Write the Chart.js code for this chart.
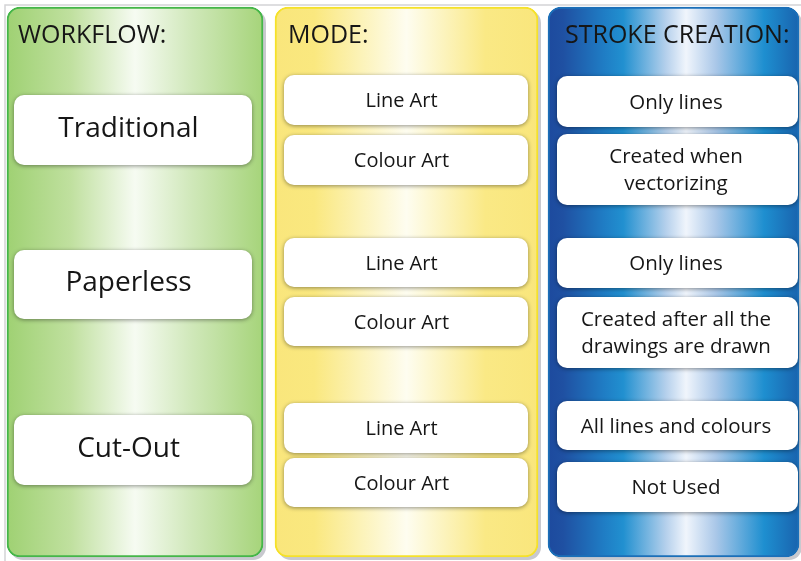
<!DOCTYPE html>
<html>
<head>
<meta charset="utf-8">
<script src="https://cdn.jsdelivr.net/npm/chart.js@4/dist/chart.umd.min.js"></script>
<style>
  html, body { margin: 0; padding: 0; background: #ffffff; }
  #wrap { width: 801px; height: 561px; }
</style>
</head>
<body>
<div id="wrap"><canvas id="c" width="801" height="561"></canvas></div>
<script>
// ---------- data ----------
const columnTitles = ['WORKFLOW:', 'MODE:', 'STROKE CREATION:'];
const panelCenters = [135, 406.5, 673.5];
const panelRange = [7, 557];
const boxCenters = [133, 406, 677.5];

const workflowLabels = [['Traditional'], ['Paperless'], ['Cut-Out']];
const workflowRanges = [[95, 165], [250, 319], [415, 485]];

const modeLabels = [['Line Art'], ['Colour Art'], ['Line Art'], ['Colour Art'], ['Line Art'], ['Colour Art']];
const modeRanges = [[75, 125], [135, 185], [238, 287], [297, 346], [403, 453], [458, 507]];

const strokeLabels = [['Only lines'], ['Created when', 'vectorizing'], ['Only lines'],
  ['Created after all the', 'drawings are drawn'], ['All lines and colours'], ['Not Used']];
const strokeRanges = [[76, 127], [134, 205], [238, 288], [297, 368], [401, 450], [462, 512]];

// ---------- styles ----------
const panelWidths = [256, 263, 251];
const boxWidths = [238, 244, 241];
const panelBorders = ['#45b649', '#f5e12a', '#1b6fb8'];
const panelStops = [
  [[0, '#9fd173'], [0.25, '#c0e09f'], [0.5, '#f6fbf2'], [0.72, '#d0e8ba'], [1, '#a6d47a']],
  [[0, '#f9e67c'], [0.15, '#fae87f'], [0.5, '#fefdf0'], [0.8, '#fae985'], [1, '#f9e67c']],
  [[0, '#1d4a9e'], [0.06, '#1f50a2'], [0.22, '#1f7cc4'], [0.3, '#2190d0'], [0.47, '#b5d0ec'],
   [0.55, '#f0f5fc'], [0.67, '#a9c7e8'], [0.86, '#1e8fd0'], [1, '#1963ae']]
];
const titleOffsets = [11, 13, 17];
const textColor = '#161616';
const fontFamily = '"Open Sans", "DejaVu Sans", sans-serif';
const fontWeight = '500';

const gradCache = {};
function panelGradient(i) {
  return function (ctx) {
    const chart = ctx.chart;
    if (!chart.chartArea) return panelStops[i][0][1];
    const xs = chart.scales.x;
    const c = xs.getPixelForValue(panelCenters[i]);
    const key = i + ':' + c;
    if (gradCache[key]) return gradCache[key];
    const g = chart.ctx.createLinearGradient(c - panelWidths[i] / 2, 0, c + panelWidths[i] / 2, 0);
    panelStops[i].forEach(s => g.addColorStop(s[0], s[1]));
    gradCache[key] = g;
    return g;
  };
}

const panelDatasets = columnTitles.map((t, i) => ({
  label: t,
  data: [{ x: panelCenters[i], y: panelRange }],
  barThickness: panelWidths[i],
  backgroundColor: panelGradient(i),
  borderColor: panelBorders[i],
  borderWidth: 2,
  borderRadius: 13,
  borderSkipped: false,
  stack: 'all',
  order: 2,
  clip: false,
  _kind: 'panel',
  _col: i
}));

const boxSets = [
  { labels: workflowLabels, ranges: workflowRanges, size: 28, dy: -3, dx: -4.5 },
  { labels: modeLabels, ranges: modeRanges, size: 20, dy: 0, dx: -4.5 },
  { labels: strokeLabels, ranges: strokeRanges, size: 20.5, dy: 0, dx: -1.5 }
];
const boxDatasets = boxSets.map((b, i) => ({
  label: columnTitles[i] + ' items',
  data: b.ranges.map(r => ({ x: boxCenters[i], y: r })),
  barThickness: boxWidths[i],
  backgroundColor: '#ffffff',
  borderWidth: 0,
  borderRadius: 10,
  borderSkipped: false,
  inflateAmount: 0,
  stack: 'all',
  order: 1,
  clip: false,
  _kind: 'box',
  _col: i
}));

const framePlugin = {
  id: 'frame',
  beforeDraw(chart) {
    const ctx = chart.ctx;
    ctx.save();
    ctx.fillStyle = '#ffffff';
    ctx.fillRect(0, 0, chart.width, chart.height);
    ctx.strokeStyle = '#d4d4d6';
    ctx.lineWidth = 1.5;
    ctx.beginPath();
    ctx.moveTo(5, chart.height);
    ctx.lineTo(5, 5);
    ctx.lineTo(chart.width, 5);
    ctx.stroke();
    ctx.restore();
  }
};

function roundRect(ctx, x, y, w, h, r) {
  ctx.beginPath();
  ctx.moveTo(x + r, y);
  ctx.arcTo(x + w, y, x + w, y + h, r);
  ctx.arcTo(x + w, y + h, x, y + h, r);
  ctx.arcTo(x, y + h, x, y, r);
  ctx.arcTo(x, y, x + w, y, r);
  ctx.closePath();
}

const shadowPlugin = {
  id: 'shadows',
  beforeDatasetDraw(chart, args) {
    const ds = chart.data.datasets[args.index];
    const ctx = chart.ctx;
    if (ds._kind === 'panel') {
      ctx.save();
      ctx.fillStyle = '#c8c9cf';
      args.meta.data.forEach(el => {
        const p = el.getProps(['x', 'y', 'base', 'width'], true);
        const top = Math.min(p.y, p.base), h = Math.abs(p.base - p.y);
        roundRect(ctx, p.x - p.width / 2 + 3, top + 3, p.width, h, 13);
        ctx.fill();
      });
      ctx.restore();
    } else if (ds._kind === 'box') {
      ctx.save();
      ctx.shadowColor = 'rgba(0,0,0,0.42)';
      ctx.shadowBlur = 4;
      ctx.shadowOffsetX = 0;
      ctx.shadowOffsetY = 1;
    }
  },
  afterDatasetDraw(chart, args) {
    const ds = chart.data.datasets[args.index];
    if (ds._kind === 'box') chart.ctx.restore();
  }
};

const textPlugin = {
  id: 'texts',
  afterDatasetsDraw(chart) {
    const ctx = chart.ctx;
    ctx.save();
    ctx.fillStyle = textColor;
    ctx.textBaseline = 'alphabetic';
    chart.data.datasets.forEach((ds, di) => {
      const meta = chart.getDatasetMeta(di);
      if (ds._kind === 'panel') {
        const p = meta.data[0].getProps(['x', 'y', 'base', 'width'], true);
        const left = p.x - p.width / 2;
        const top = Math.min(p.y, p.base);
        ctx.font = fontWeight + ' 25px ' + fontFamily;
        ctx.textAlign = 'left';
        ctx.fillText(columnTitles[ds._col], left + titleOffsets[ds._col], top + 36);
      } else if (ds._kind === 'box') {
        const set = boxSets[ds._col];
        ctx.font = fontWeight + ' ' + set.size + 'px ' + fontFamily;
        ctx.textAlign = 'center';
        const cap = set.size * 0.714;
        const lh = 27;
        meta.data.forEach((el, i) => {
          const p = el.getProps(['x', 'y', 'base'], true);
          const cy = (p.y + p.base) / 2;
          const lines = set.labels[i];
          lines.forEach((line, k) => {
            const by = cy - (lines.length - 1) * lh / 2 + k * lh + cap / 2 + set.dy;
            ctx.fillText(line, p.x + set.dx, by);
          });
        });
      }
    });
    ctx.restore();
  }
};

new Chart(document.getElementById('c'), {
  type: 'bar',
  data: { datasets: panelDatasets.concat(boxDatasets) },
  options: {
    responsive: false,
    animation: false,
    layout: { padding: 0 },
    plugins: { legend: { display: false }, tooltip: { enabled: false }, title: { display: false } },
    scales: {
      x: { type: 'linear', min: 0, max: 801, display: false, offset: false },
      y: { type: 'linear', min: 0, max: 561, reverse: true, display: false, stacked: false, beginAtZero: false }
    }
  },
  plugins: [framePlugin, shadowPlugin, textPlugin]
});
</script>
</body>
</html>
